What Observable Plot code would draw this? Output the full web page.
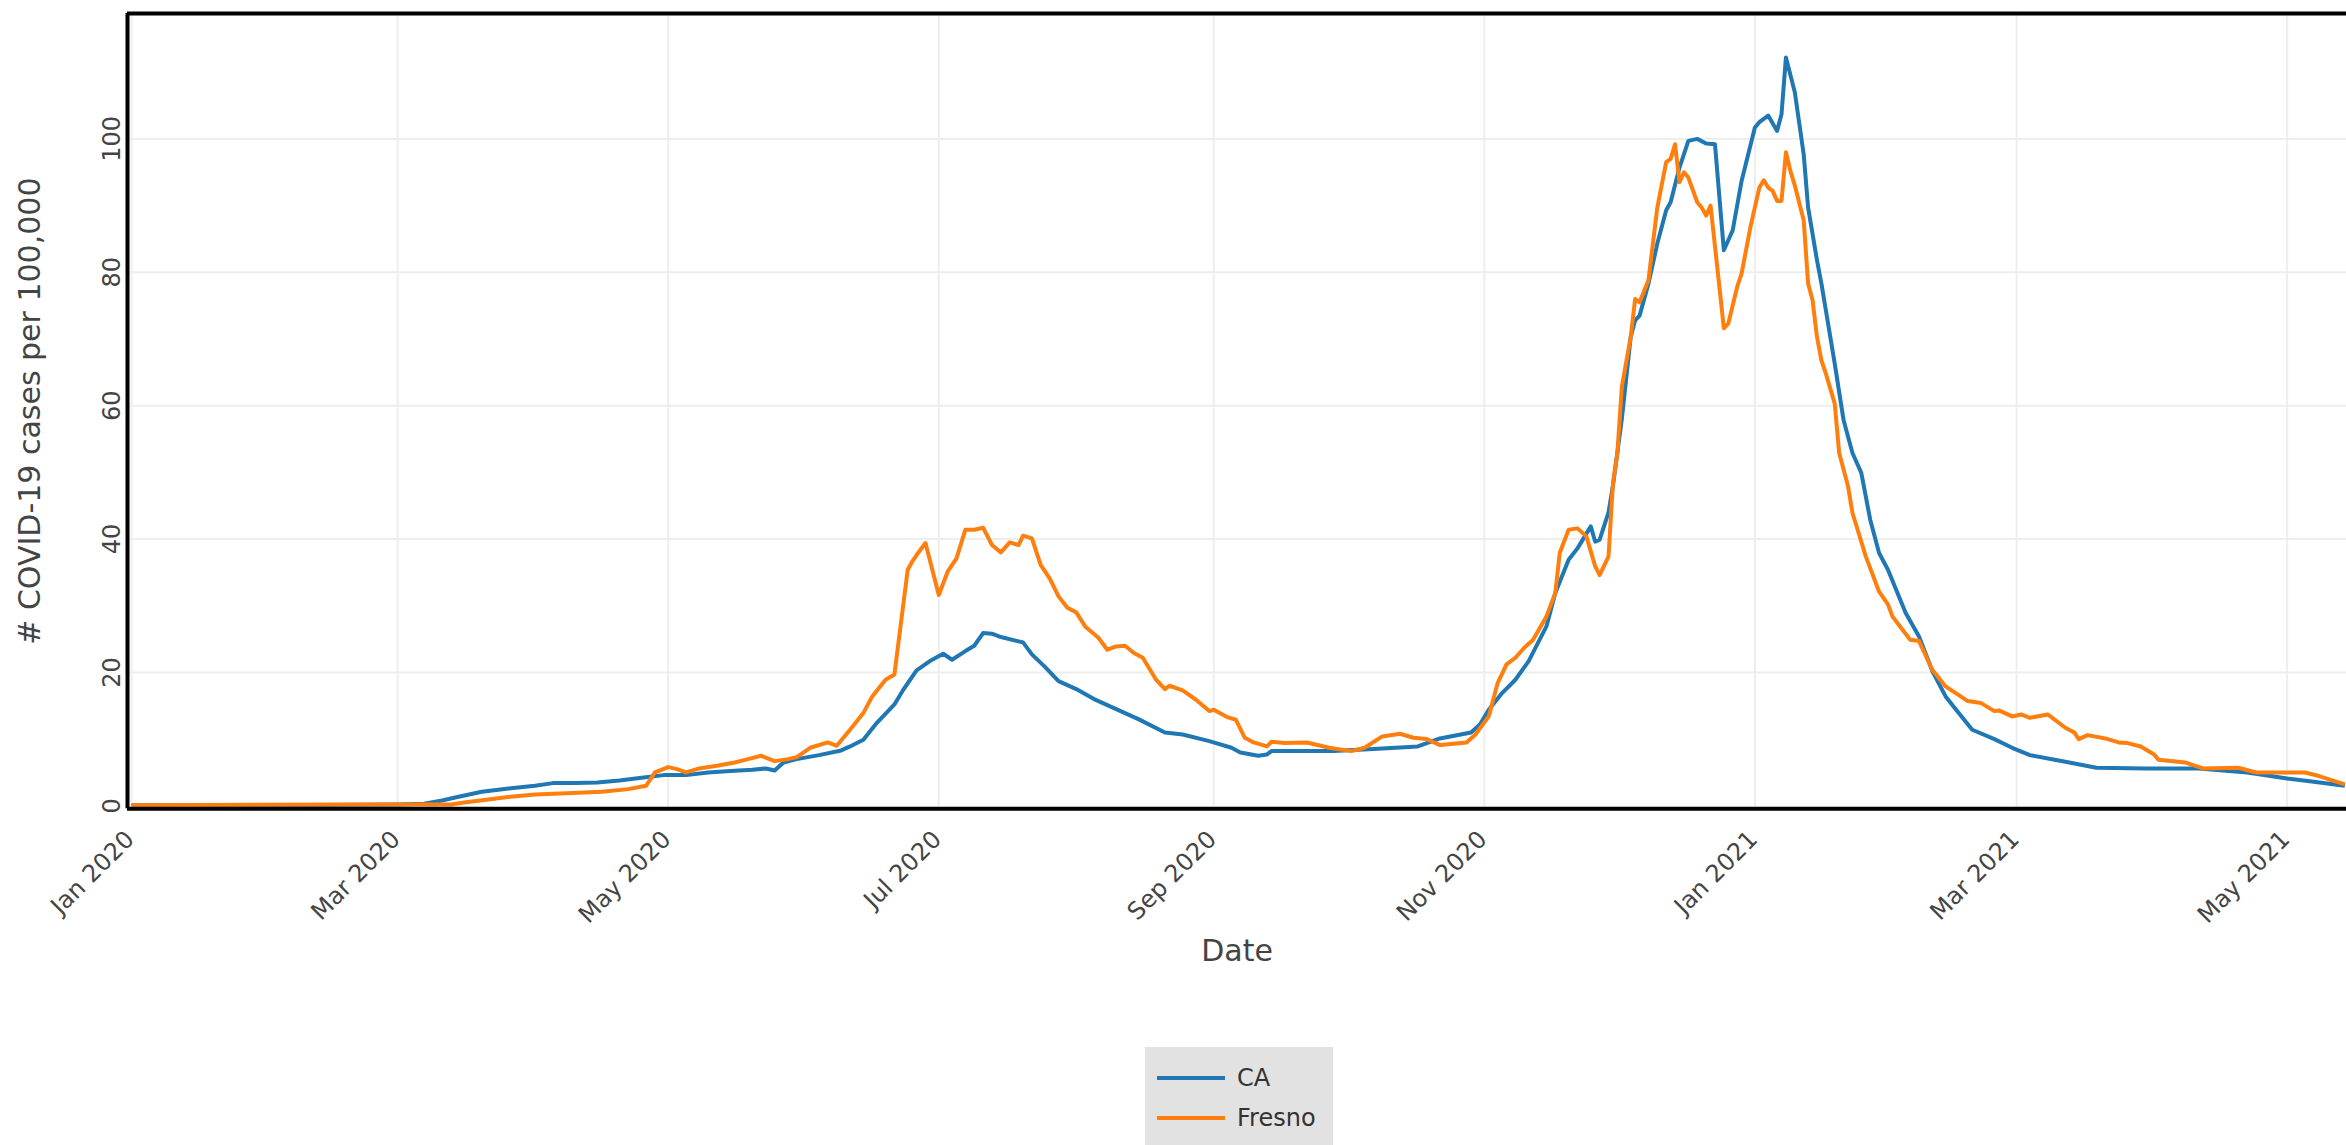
<!DOCTYPE html>
<html>
<head>
<meta charset="utf-8">
<script src="https://cdn.jsdelivr.net/npm/d3@7"></script>
<script src="https://cdn.jsdelivr.net/npm/@observablehq/plot@0.6"></script>
<style>
  html, body { margin: 0; padding: 0; background: #fff; overflow: hidden; }
  #chart svg { display: block; }
  #legend { position: relative; margin-left: 1145px; margin-top: 7px; width: 188px; height: 98px; background: #e2e2e2; font-family: "DejaVu Sans", sans-serif; font-size: 24px; color: #333; }
  .item { position: absolute; left: 12px; height: 40px; display: flex; align-items: center; }
  .item .sw { width: 68px; height: 4px; margin-right: 12px; }
  .item span { line-height: 1; }
</style>
</head>
<body>
<div id="chart"></div>
<div id="legend"></div>
<script>
// ---------- data ----------
const seriesNames = ["CA", "Fresno"];

const caDates = [
  "2020-01-01","2020-02-01","2020-03-01","2020-03-07","2020-03-11","2020-03-15","2020-03-20","2020-03-26",
  "2020-04-01","2020-04-05","2020-04-10","2020-04-15","2020-04-20","2020-04-25","2020-04-30","2020-05-05",
  "2020-05-10","2020-05-15","2020-05-20","2020-05-23","2020-05-25","2020-05-27","2020-05-30","2020-06-04",
  "2020-06-09","2020-06-11","2020-06-14","2020-06-17","2020-06-21","2020-06-23","2020-06-26","2020-06-29",
  "2020-07-02","2020-07-04","2020-07-07","2020-07-09","2020-07-11","2020-07-13","2020-07-15","2020-07-20",
  "2020-07-22","2020-07-25","2020-07-28","2020-08-01","2020-08-05","2020-08-10","2020-08-15","2020-08-21",
  "2020-08-25","2020-08-31","2020-09-05","2020-09-07","2020-09-11","2020-09-13","2020-09-14","2020-09-21",
  "2020-09-28","2020-10-07","2020-10-17","2020-10-22","2020-10-29","2020-10-31","2020-11-02","2020-11-05",
  "2020-11-08","2020-11-11","2020-11-15","2020-11-17","2020-11-20","2020-11-22","2020-11-25","2020-11-26",
  "2020-11-27","2020-11-29","2020-11-30","2020-12-02","2020-12-04","2020-12-05","2020-12-06","2020-12-08",
  "2020-12-10","2020-12-12","2020-12-13","2020-12-15","2020-12-17","2020-12-19","2020-12-21","2020-12-23",
  "2020-12-25","2020-12-27","2020-12-29","2021-01-01","2021-01-02","2021-01-04","2021-01-06","2021-01-07",
  "2021-01-08","2021-01-10","2021-01-12","2021-01-13","2021-01-15","2021-01-16","2021-01-17","2021-01-19",
  "2021-01-21","2021-01-23","2021-01-25","2021-01-27","2021-01-29","2021-01-31","2021-02-04","2021-02-07",
  "2021-02-10","2021-02-13","2021-02-15","2021-02-19","2021-02-24","2021-02-28","2021-03-04","2021-03-12",
  "2021-03-19","2021-03-30","2021-04-11","2021-04-22","2021-05-01","2021-05-07","2021-05-14"
];
const caValues = [
  0.1,0.1,0.2,0.3,0.8,1.4,2.1,2.6,
  3.0,3.4,3.4,3.5,3.8,4.2,4.6,4.6,
  5.0,5.2,5.4,5.6,5.3,6.5,7.0,7.6,
  8.3,8.9,9.9,12.4,15.2,17.4,20.3,21.7,
  22.8,21.9,23.2,24.0,25.9,25.8,25.3,24.5,
  22.7,20.8,18.7,17.5,16.0,14.5,13.0,11.0,
  10.7,9.7,8.7,8.0,7.5,7.7,8.2,8.2,
  8.2,8.5,8.9,10.1,11.0,12.2,14.4,16.9,
  18.9,21.7,26.9,31.9,36.9,38.6,41.9,39.6,
  39.9,44.0,48.0,58.0,70.3,72.8,73.5,78.3,
  84.3,89.3,90.5,95.7,99.7,100.0,99.3,99.2,
  83.3,86.3,93.7,101.7,102.5,103.5,101.2,103.7,
  112.2,107.0,97.7,89.7,81.8,78.3,74.3,66.3,
  57.8,52.9,49.9,42.9,37.9,35.4,28.9,25.4,
  20.2,16.4,14.7,11.4,10.0,8.7,7.6,6.6,
  5.7,5.6,5.6,5.0,4.1,3.6,3.0
];

const fresnoDates = [
  "2020-01-01","2020-03-01","2020-03-13","2020-03-16","2020-03-21","2020-03-27","2020-04-01","2020-04-08",
  "2020-04-16","2020-04-22","2020-04-26","2020-04-28","2020-05-01","2020-05-03","2020-05-05","2020-05-08",
  "2020-05-12","2020-05-16","2020-05-19","2020-05-22","2020-05-25","2020-05-28","2020-05-30","2020-06-02",
  "2020-06-06","2020-06-08","2020-06-11","2020-06-14","2020-06-16","2020-06-19","2020-06-21","2020-06-24",
  "2020-06-25","2020-06-26","2020-06-28","2020-07-01","2020-07-03","2020-07-05","2020-07-07","2020-07-09",
  "2020-07-11","2020-07-13","2020-07-15","2020-07-17","2020-07-19","2020-07-20","2020-07-22","2020-07-24",
  "2020-07-26","2020-07-28","2020-07-30","2020-08-01","2020-08-03","2020-08-06","2020-08-08","2020-08-10",
  "2020-08-12","2020-08-14","2020-08-16","2020-08-19","2020-08-21","2020-08-22","2020-08-25","2020-08-28",
  "2020-08-31","2020-09-01","2020-09-04","2020-09-06","2020-09-08","2020-09-10","2020-09-13","2020-09-14",
  "2020-09-17","2020-09-22","2020-09-27","2020-10-02","2020-10-05","2020-10-09","2020-10-13","2020-10-16",
  "2020-10-19","2020-10-22","2020-10-28","2020-10-30","2020-11-02","2020-11-04","2020-11-06","2020-11-08",
  "2020-11-10","2020-11-12","2020-11-15","2020-11-17","2020-11-18","2020-11-20","2020-11-22","2020-11-24",
  "2020-11-26","2020-11-27","2020-11-29","2020-11-30","2020-12-01","2020-12-02","2020-12-04","2020-12-05",
  "2020-12-06","2020-12-08","2020-12-10","2020-12-12","2020-12-13","2020-12-14","2020-12-15","2020-12-16",
  "2020-12-17","2020-12-19","2020-12-20","2020-12-21","2020-12-22","2020-12-24","2020-12-25","2020-12-26",
  "2020-12-28","2020-12-29","2020-12-31","2021-01-02","2021-01-03","2021-01-04","2021-01-05","2021-01-06",
  "2021-01-07","2021-01-08","2021-01-09","2021-01-10","2021-01-12","2021-01-13","2021-01-14","2021-01-15",
  "2021-01-16","2021-01-17","2021-01-19","2021-01-20","2021-01-22","2021-01-23","2021-01-26","2021-01-29",
  "2021-01-31","2021-02-01","2021-02-05","2021-02-07","2021-02-10","2021-02-13","2021-02-18","2021-02-21",
  "2021-02-24","2021-02-25","2021-02-28","2021-03-02","2021-03-04","2021-03-08","2021-03-12","2021-03-14",
  "2021-03-15","2021-03-17","2021-03-21","2021-03-24","2021-03-26","2021-03-29","2021-04-01","2021-04-02",
  "2021-04-08","2021-04-12","2021-04-20","2021-04-24","2021-05-05","2021-05-08","2021-05-14"
];
const fresnoValues = [
  0.1,0.2,0.2,0.5,0.9,1.4,1.7,1.9,
  2.1,2.5,3.0,5.0,5.8,5.5,5.0,5.6,
  6.0,6.5,7.0,7.5,6.7,7.0,7.3,8.7,
  9.5,9.0,11.4,13.9,16.4,18.9,19.7,35.4,
  36.6,37.6,39.4,31.6,35.1,37.1,41.4,41.4,
  41.7,39.1,38.0,39.5,39.1,40.5,40.1,36.1,
  34.1,31.4,29.7,29.0,26.9,25.2,23.4,23.9,
  24.0,22.9,22.2,18.9,17.5,18.0,17.3,15.9,
  14.2,14.4,13.3,12.9,10.2,9.5,8.9,9.6,
  9.4,9.5,8.7,8.2,8.7,10.4,10.8,10.2,
  10.0,9.1,9.5,10.7,13.4,18.4,21.2,22.2,
  23.7,24.9,28.4,31.9,37.9,41.4,41.6,40.4,
  35.9,34.6,37.4,48.4,52.9,62.8,70.3,76.0,
  75.5,78.8,89.7,96.5,97.0,99.2,93.5,95.0,
  94.2,90.5,89.7,88.5,90.0,77.8,71.6,72.3,
  77.8,79.8,86.8,92.7,93.8,92.7,92.2,90.7,
  90.7,98.0,95.2,93.0,87.8,78.3,75.8,70.3,
  66.8,64.8,60.3,52.9,47.9,43.9,37.4,32.1,
  30.2,28.4,24.9,24.7,20.4,17.9,15.7,15.4,
  14.2,14.3,13.4,13.7,13.2,13.7,11.7,11.0,
  10.0,10.6,10.1,9.5,9.4,8.9,7.7,6.9,
  6.5,5.6,5.7,5.0,5.0,4.5,3.2
];

const xTicks = ["2020-01-01","2020-03-01","2020-05-01","2020-07-01","2020-09-01","2020-11-01","2021-01-01","2021-03-01","2021-05-01"];
const yTicks = [0, 20, 40, 60, 80, 100];
const xTitle = "Date";
const yTitle = "# COVID-19 cases per 100,000";

// ---------- scale settings and styles ----------
const seriesColors = ["#1f77b4", "#ff7f0e"];
const xDomain = ["2019-12-31T02:21Z", "2021-05-14T09:07Z"].map(d => new Date(d));
const yDomain = [-0.45, 118.8];
const W = 2346, H = 1040;

const rows = [
  ...caDates.map((d, i) => ({date: new Date(d), value: caValues[i], series: seriesNames[0]})),
  ...fresnoDates.map((d, i) => ({date: new Date(d), value: fresnoValues[i], series: seriesNames[1]}))
];
const xTickDates = xTicks.map(d => new Date(d));

const chart = Plot.plot({
  width: W,
  height: H,
  marginLeft: 127,
  marginRight: 0,
  marginTop: 13,
  marginBottom: H - 808.3,
  style: {fontFamily: "DejaVu Sans, sans-serif", color: "#444", background: "#fff", overflow: "visible"},
  x: {type: "utc", domain: xDomain},
  y: {domain: yDomain},
  color: {domain: seriesNames, range: seriesColors},
  marks: [
    Plot.gridX(xTickDates, {stroke: "#eeeeee", strokeOpacity: 1, strokeWidth: 2}),
    Plot.gridY(yTicks.filter(v => v > 0), {stroke: "#eeeeee", strokeOpacity: 1, strokeWidth: 2}),
    Plot.axisX(xTickDates, {
      tickSize: 0, tickRotate: -45, tickFormat: d3.utcFormat("%b %Y"),
      fontSize: 24, textAnchor: "end", lineAnchor: "bottom", tickPadding: 32, dx: 4, label: null
    }),
    Plot.axisY(yTicks, {tickSize: 0, tickRotate: -90, tickPadding: 8, fontSize: 24, label: null}),
    Plot.lineY(rows, {x: "date", y: "value", z: "series", stroke: "series", strokeWidth: 4,
      strokeLinejoin: "round", strokeLinecap: "butt", clip: true}),
    Plot.ruleX([xDomain[0]], {stroke: "#000", strokeWidth: 4}),
    Plot.ruleY([yDomain[0], yDomain[1]], {stroke: "#000", strokeWidth: 4}),
    Plot.text([yTitle], {text: d => d, frameAnchor: "left", dx: -97, rotate: -90, fontSize: 30,
      textAnchor: "middle", lineAnchor: "middle"}),
    Plot.text([xTitle], {text: d => d, frameAnchor: "bottom", dy: 143, fontSize: 30,
      textAnchor: "middle", lineAnchor: "middle"})
  ]
});
document.getElementById("chart").appendChild(chart);

// ---------- legend (below the SVG) ----------
const legend = document.getElementById("legend");
seriesNames.forEach((name, i) => {
  const item = document.createElement("div");
  item.className = "item";
  item.style.top = (11 + i * 40) + "px";
  const sw = document.createElement("div");
  sw.className = "sw";
  sw.style.background = seriesColors[i];
  const label = document.createElement("span");
  label.textContent = name;
  item.appendChild(sw);
  item.appendChild(label);
  legend.appendChild(item);
});
</script>
</body>
</html>
